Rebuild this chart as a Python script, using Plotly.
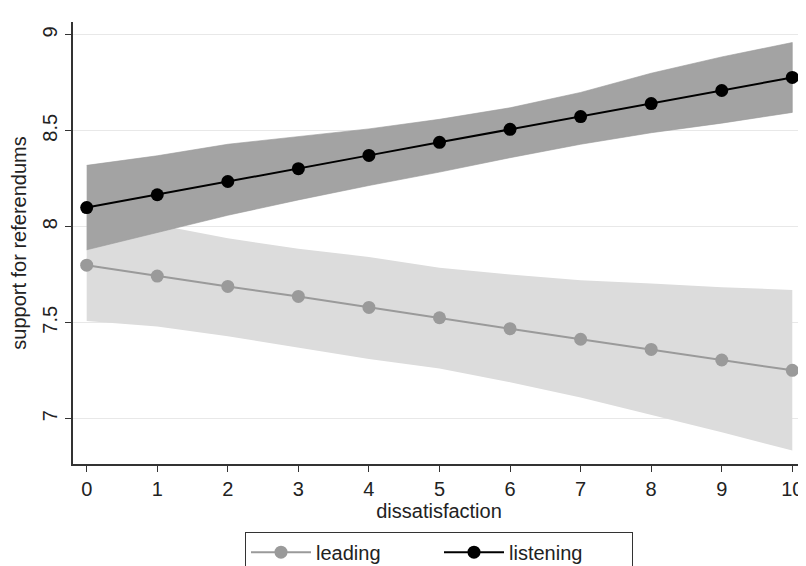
import plotly.graph_objects as go

dissatisfaction = list(range(0, 11))

leading_mean = [7.80, 7.743, 7.689, 7.637, 7.58, 7.526, 7.469, 7.414, 7.361, 7.306, 7.252]
leading_upper = [8.07, 8.01, 7.94, 7.885, 7.843, 7.787, 7.752, 7.722, 7.705, 7.685, 7.671]
leading_lower = [7.509, 7.48, 7.43, 7.372, 7.311, 7.262, 7.19, 7.11, 7.02, 6.929, 6.834]

listening_mean = [8.10, 8.167, 8.236, 8.303, 8.372, 8.44, 8.508, 8.574, 8.642, 8.71, 8.778]
listening_upper = [8.32, 8.37, 8.43, 8.47, 8.51, 8.56, 8.62, 8.70, 8.80, 8.885, 8.96]
listening_lower = [7.88, 7.97, 8.06, 8.14, 8.215, 8.285, 8.36, 8.43, 8.49, 8.54, 8.596]

x_ticks = list(range(0, 11))
y_ticks = [7, 7.5, 8, 8.5, 9]
y_tick_text = ["7", "7.5", "8", "8.5", "9"]

FONT = "Liberation Sans, Arial, sans-serif"

fig = go.Figure()

# Confidence bands
fig.add_trace(go.Scatter(
    x=dissatisfaction + dissatisfaction[::-1],
    y=leading_upper + leading_lower[::-1],
    fill="toself", fillcolor="#dcdcdc", line=dict(width=0),
    mode="lines", showlegend=False, hoverinfo="skip"))
fig.add_trace(go.Scatter(
    x=dissatisfaction + dissatisfaction[::-1],
    y=listening_upper + listening_lower[::-1],
    fill="toself", fillcolor="#a3a3a3", line=dict(width=0.6, color="#999999"),
    mode="lines", showlegend=False, hoverinfo="skip"))

# Lines
fig.add_trace(go.Scatter(
    x=dissatisfaction, y=leading_mean, mode="lines+markers", name="leading",
    line=dict(color="#9a9a9a", width=2),
    marker=dict(color="#9a9a9a", size=13)))
fig.add_trace(go.Scatter(
    x=dissatisfaction, y=listening_mean, mode="lines+markers", name="listening",
    line=dict(color="#000000", width=2),
    marker=dict(color="#000000", size=13)))

fig.update_layout(
    width=798, height=566,
    paper_bgcolor="white", plot_bgcolor="white",
    margin=dict(l=65, r=1, t=14, b=103),
    font=dict(family=FONT, size=20, color="#222222"),
    legend=dict(
        orientation="h", x=0.5, xanchor="center", y=-0.153, yanchor="top",
        bordercolor="#333333", borderwidth=1, bgcolor="white",
        font=dict(size=20), itemwidth=60, entrywidthmode="pixels", entrywidth=118,
    ),
    xaxis=dict(
        range=[-0.194, 10.18], tickmode="array", tickvals=x_ticks,
        showline=True, linecolor="#333333", linewidth=1.5,
        ticks="outside", ticklen=6, tickwidth=1.3, tickcolor="#333333",
        showgrid=False, zeroline=False, automargin=False,
        title=dict(text="dissatisfaction", standoff=0, font=dict(size=20)),
        tickfont=dict(size=20),
    ),
    yaxis=dict(
        range=[6.764, 9.067], tickmode="array", tickvals=y_ticks, ticktext=y_tick_text,
        tickangle=-90, automargin=False,
        showline=True, linecolor="#333333", linewidth=1.5,
        ticks="outside", ticklen=6, tickwidth=1.3, tickcolor="#333333",
        showgrid=True, gridcolor="#e8e8e8", gridwidth=1, zeroline=False,
        title=dict(text="support for referendums", standoff=10, font=dict(size=20)),
        tickfont=dict(size=20),
    ),
)

fig.write_html("out.html")
